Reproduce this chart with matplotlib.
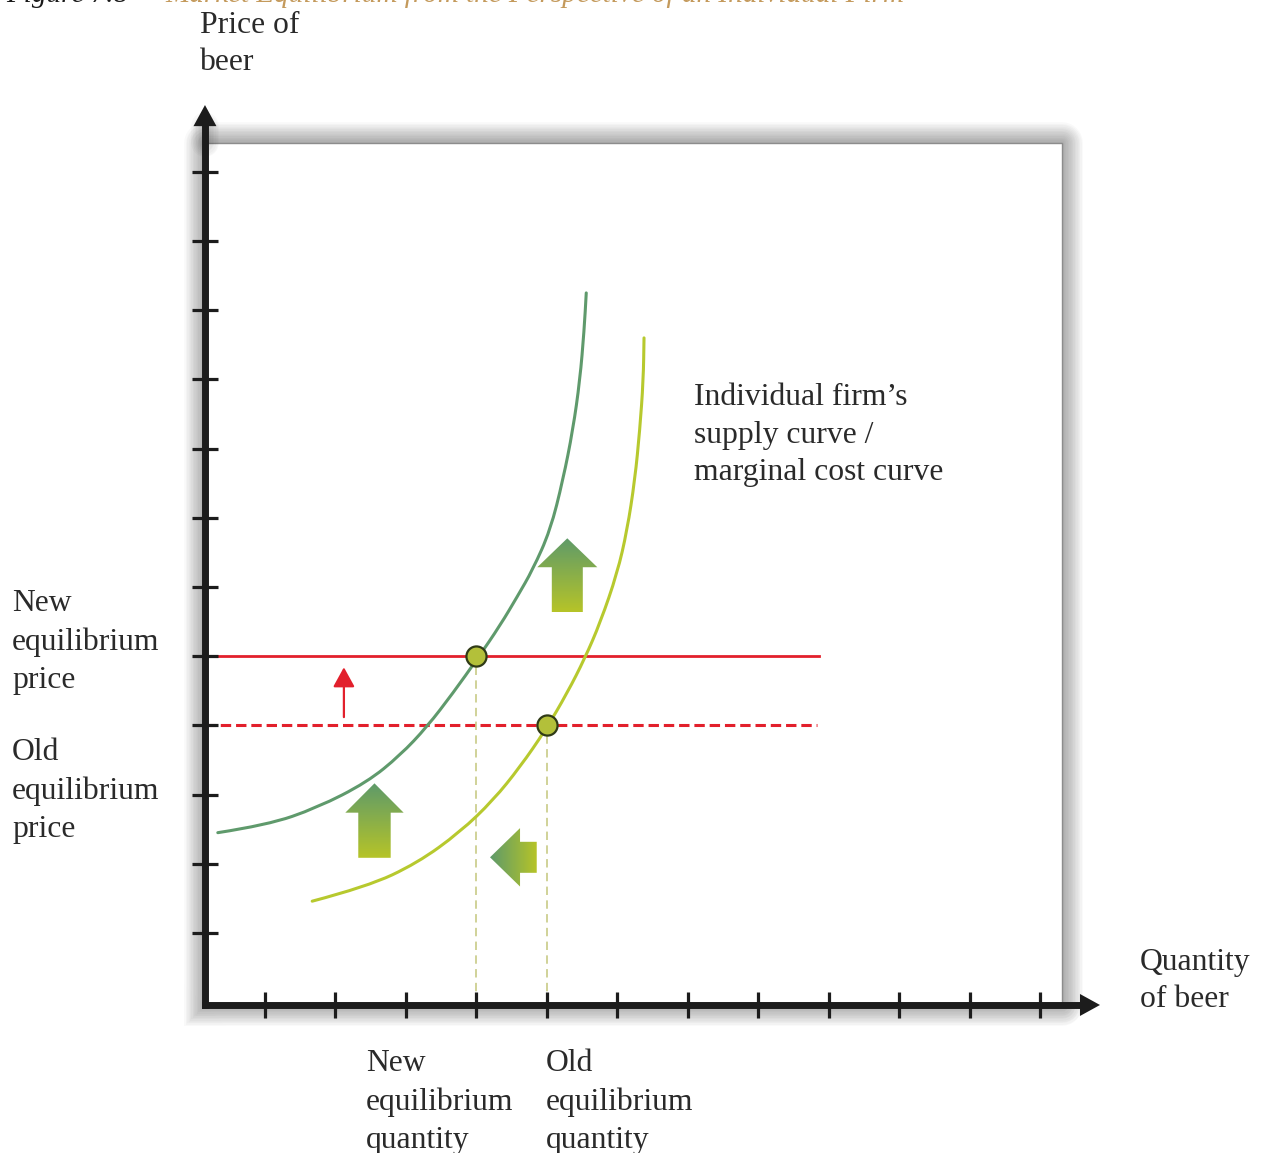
import numpy as np
import matplotlib
matplotlib.use("Agg")
import matplotlib.pyplot as plt
from matplotlib.patches import Polygon, Rectangle, PathPatch
from matplotlib.path import Path
from matplotlib.colors import LinearSegmentedColormap

# ------------------------------------------------------------------
# Values (axis units: one tick = 1)
# ------------------------------------------------------------------
tick_positions = np.arange(1, 13)

# shifted (new) supply curve, dark green
new_supply_q = [0.33, 1.03, 1.74, 2.45, 2.92, 3.30, 3.67, 4.02, 4.34, 4.58, 4.80,
                5.05, 5.23, 5.37, 5.47, 5.53, 5.56]
new_supply_p = [2.45, 2.56, 2.81, 3.18, 3.57, 3.98, 4.47, 4.97, 5.45, 5.86, 6.25,
                6.82, 7.55, 8.27, 8.99, 9.71, 10.25]

# original (old) supply curve, yellow green
old_supply_q = [1.67, 2.45, 3.16, 3.77, 4.24, 4.62, 4.98, 5.29, 5.54, 5.76, 6.00,
                6.14, 6.25, 6.32, 6.37, 6.38]
old_supply_p = [1.46, 1.67, 2.01, 2.46, 2.92, 3.40, 3.93, 4.47, 4.97, 5.49, 6.20,
                6.82, 7.55, 8.27, 8.99, 9.60]

eq_names = ["New", "Old"]
eq_quantity = [4, 5]
eq_price = [5, 4]
price_line_end = [8.87, 8.84]

TEXT = "#2a2a2a"
RED = "#e2202c"
DARK_GREEN = "#5f9a6c"
LIGHT_GREEN = "#b7c92e"
SERIF = ["Liberation Serif", "DejaVu Serif"]

W, H = 1263, 1153

# axis origin and panel corner
X0, Y0 = 0.148, -0.04
X1, Y1 = 12.313, 12.416


def px(x, y):
    """Figure pixel position -> axes fraction (used for the text blocks)."""
    return x / W, 1 - y / H


def smooth_curve(ax, xs, ys, **kw):
    """Draw a line through the read points as chained quadratic Beziers."""
    pts = np.column_stack([xs, ys])
    verts = [pts[0]]
    codes = [Path.MOVETO]
    for i in range(1, len(pts) - 1):
        verts += [pts[i], (pts[i] + pts[i + 1]) / 2]
        codes += [Path.CURVE3, Path.CURVE3]
    verts.append(pts[-1])
    codes.append(Path.LINETO)
    ax.add_patch(PathPatch(Path(verts, codes), facecolor="none", capstyle="round", **kw))


def gradient_arrow(ax, tail, tip, head_len, head_half, body_half,
                   c_tail="#b6c428", c_tip="#5e9a6a"):
    """Axis-aligned block arrow filled with a colour gradient."""
    tail = np.asarray(tail, float)
    tip = np.asarray(tip, float)
    u = (tip - tail) / np.linalg.norm(tip - tail)
    n = np.array([-u[1], u[0]])
    base = tip - u * head_len
    verts = [tail + n * body_half, base + n * body_half, base + n * head_half, tip,
             base - n * head_half, base - n * body_half, tail - n * body_half]
    patch = Polygon(verts, closed=True, facecolor="none", edgecolor="none",
                    transform=ax.transData)
    ax.add_patch(patch)
    xs = [v[0] for v in verts]
    ys = [v[1] for v in verts]
    t = np.linspace(0, 1, 256)
    if abs(u[1]) > abs(u[0]):
        grid = t.reshape(-1, 1) if u[1] > 0 else t[::-1].reshape(-1, 1)
    else:
        grid = t.reshape(1, -1) if u[0] > 0 else t[::-1].reshape(1, -1)
    cmap = LinearSegmentedColormap.from_list("arr", [c_tail, c_tip])
    im = ax.imshow(grid, cmap=cmap, origin="lower", aspect="auto", interpolation="bilinear",
                   extent=(min(xs), max(xs), min(ys), max(ys)), zorder=5)
    im.set_clip_path(patch)


fig = plt.figure(figsize=(W / 100, H / 100), dpi=100)
ax = fig.add_axes([0, 0, 1, 1])
ax.set_xlim(-2.7615, 15.166)
ax.set_ylim(-2.179, 14.483)
ax.axis("off")

# --- panel with soft drop shadow ---
rx = [X0, X1, X1, X0, X0]
ry = [Y0, Y0, Y1, Y1, Y0]
for w in np.linspace(30, 2, 15):
    ax.plot(rx, ry, color="black", alpha=0.022, lw=w, solid_joinstyle="round", zorder=1)
ax.add_patch(Rectangle((X0, Y0), X1 - X0, Y1 - Y0, facecolor="white",
                       edgecolor="#8c8c8c", lw=1.0, zorder=2))

# --- axes with arrow heads ---
y_tip, y_base = 12.965, 12.66
x_tip, x_base = 12.852, 12.568
for w in np.linspace(20, 6, 7):
    ax.plot([X0, X0], [Y1, y_base], color="black", alpha=0.025, lw=w,
            solid_capstyle="round", zorder=2.5)
ax.plot([X0, X0], [Y0, y_base], color="#1c1c1c", lw=5, zorder=6, solid_capstyle="projecting")
ax.plot([X0, x_base], [Y0, Y0], color="#1c1c1c", lw=5, zorder=6, solid_capstyle="projecting")
ax.add_patch(Polygon([(X0 - 0.163, y_base), (X0 + 0.163, y_base), (X0, y_tip)],
                     closed=True, facecolor="#1c1c1c", edgecolor="none", zorder=6))
ax.add_patch(Polygon([(x_base, Y0 - 0.159), (x_base, Y0 + 0.159), (x_tip, Y0)],
                     closed=True, facecolor="#1c1c1c", edgecolor="none", zorder=6))
ax.plot(np.full(len(tick_positions), X0), tick_positions, ls="none", marker="_",
        ms=19, mew=2.3, color="#1c1c1c", zorder=7)
ax.plot(tick_positions, np.full(len(tick_positions), Y0), ls="none", marker="|",
        ms=19, mew=2.3, color="#1c1c1c", zorder=7)

# --- price lines ---
ax.plot([X0, price_line_end[0]], [eq_price[0], eq_price[0]], color=RED, lw=2.0, zorder=3)
ax.plot([X0, price_line_end[1]], [eq_price[1], eq_price[1]], color=RED, lw=2.2,
        ls=(0, (3.4, 1.6)), zorder=3)

# --- quantity drop lines ---
for q, p in zip(eq_quantity, eq_price):
    ax.plot([q, q], [Y0, p], color="#c3c67c", lw=1.1, ls=(0, (5.5, 3.5)), zorder=3)

# --- supply curves ---
smooth_curve(ax, new_supply_q, new_supply_p, edgecolor=DARK_GREEN, lw=2.2, zorder=4)
smooth_curve(ax, old_supply_q, old_supply_p, edgecolor=LIGHT_GREEN, lw=2.2, zorder=4)

# --- equilibrium points ---
ax.scatter(eq_quantity, eq_price, s=210, facecolor="#b3c03a", edgecolor="#2f3a16",
           linewidth=1.6, zorder=8)

# --- small red arrow: price rises ---
ax.annotate("", xy=(2.12, 4.84), xytext=(2.12, 4.12),
            arrowprops=dict(arrowstyle="-|>,head_length=1.0,head_width=0.55",
                            color=RED, lw=1.6, mutation_scale=12,
                            shrinkA=0, shrinkB=0), zorder=5)

# --- shift arrows ---
gradient_arrow(ax, (2.554, 2.087), (2.554, 3.163), 0.424, 0.414, 0.23)
gradient_arrow(ax, (5.291, 5.633), (5.291, 6.704), 0.418, 0.426, 0.22)
gradient_arrow(ax, (4.857, 2.094), (4.194, 2.094), 0.426, 0.422, 0.224)

# --- text ---
tkw = dict(transform=ax.transAxes, fontsize=22.8, family=SERIF, color=TEXT,
           ha="left", va="center", linespacing=1.4)
ax.text(*px(200, 44), "Price of\nbeer", **tkw)
ax.text(*px(694, 435), "Individual firm\u2019s\nsupply curve /\nmarginal cost curve", **tkw)
ax.text(*px(12, 642), "New\nequilibrium\nprice", **tkw)
ax.text(*px(12, 791), "Old\nequilibrium\nprice", **tkw)
ax.text(*px(1140, 981), "Quantity\nof beer", **tkw)
for name, left in zip(eq_names, [366, 546]):
    ax.text(*px(left, 1102), f"{name}\nequilibrium\nquantity", **tkw)

# caption cut off at the top edge of the image
ax.text(*px(6, 2), "Figure 7.8", transform=ax.transAxes, fontsize=21, family=SERIF,
        style="italic", color="#1a1a1a", ha="left", va="baseline")
ax.text(*px(165, 2), "Market Equilibrium from the Perspective of an Individual Firm",
        transform=ax.transAxes, fontsize=21, family=SERIF, style="italic",
        color="#c49a5c", ha="left", va="baseline")

fig.savefig("out.png", dpi=100)
